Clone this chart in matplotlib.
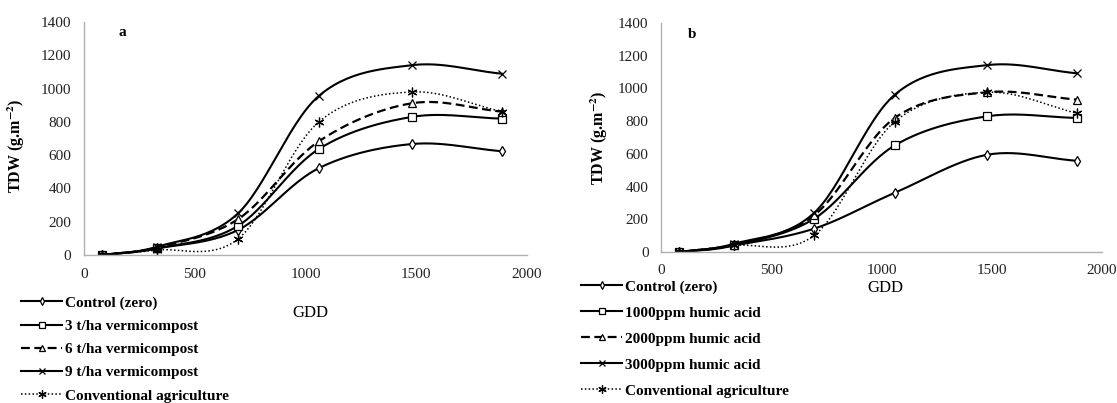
import numpy as np
import matplotlib.pyplot as plt

plt.rcParams['font.family'] = ['Liberation Serif', 'DejaVu Serif']
plt.rcParams['mathtext.fontset'] = 'stix'

# ---- data ----
gdd = [80, 330, 695, 1060, 1480, 1885]

labels_a = ["Control (zero)", "3 t/ha vermicompost", "6 t/ha vermicompost",
            "9 t/ha vermicompost", "Conventional agriculture"]
control_a = [0, 40, 150, 522, 667, 624]
vc3 = [0, 40, 175, 637, 830, 820]
vc6 = [0, 45, 215, 683, 912, 862]
vc9 = [0, 50, 250, 956, 1141, 1090]
conv_a = [0, 30, 96, 800, 980, 862]

labels_b = ["Control (zero)", "1000ppm humic acid", "2000ppm humic acid",
            "3000ppm humic acid", "Conventional agriculture"]
control_b = [0, 40, 143, 362, 595, 558]
ha1000 = [0, 40, 204, 652, 830, 820]
ha2000 = [0, 45, 225, 820, 977, 932]
ha3000 = [0, 50, 240, 962, 1143, 1093]
conv_b = [0, 40, 102, 797, 977, 849]

# line style per series (same order in both panels)
styles = [
    dict(marker='d', ls='-', lw=1.5, ms=5),
    dict(marker='s', ls='-', lw=1.5, ms=6),
    dict(marker='^', ls=(0, (4, 2)), lw=1.6, ms=6),
    dict(marker='x', ls='-', lw=1.5, ms=6),
    dict(marker=(6, 2, 0), ls=(0, (1, 1.5)), lw=1.1, ms=7),
]


def smooth(x, y, n=30):
    # excel-like smoothed line (Catmull-Rom) through the points
    p = np.column_stack([x, y]).astype(float)
    pts = np.vstack([p[0] - (p[1] - p[0]), p, p[-1] + (p[-1] - p[-2])])
    out = []
    for i in range(1, len(pts) - 2):
        p0, p1, p2, p3 = pts[i - 1], pts[i], pts[i + 1], pts[i + 2]
        m1 = (p2 - p0) / 2
        m2 = (p3 - p1) / 2
        t = np.linspace(0, 1, n)[:, None]
        h00 = 2 * t**3 - 3 * t**2 + 1
        h10 = t**3 - 2 * t**2 + t
        h01 = -2 * t**3 + 3 * t**2
        h11 = t**3 - t**2
        out.append(h00 * p1 + h10 * m1 + h01 * p2 + h11 * m2)
    out = np.vstack(out)
    return out[:, 0], out[:, 1]


def draw_panel(ax, series, labels, tag, tag_xy, leg_anchor, ylab_xy,
               xlab_xy, leg_space):
    handles = []
    for vals, lab, st in zip(series, labels, styles):
        sx, sy = smooth(gdd, vals)
        ax.plot(sx, sy, color='black', ls=st['ls'], lw=st['lw'])
        ax.plot(gdd, vals, ls='none', marker=st['marker'], ms=st['ms'],
                mfc='white', mec='black', mew=0.9)
        h, = ax.plot([], [], color='black', ls=st['ls'], lw=st['lw'],
                     marker=st['marker'], ms=st['ms'] - 1, mfc='white',
                     mec='black', mew=0.9)
        handles.append(h)

    ax.set_xlim(0, 2000)
    ax.set_ylim(0, 1400)
    ax.set_xticks([0, 500, 1000, 1500, 2000])
    ax.set_yticks(range(0, 1401, 200))
    ax.tick_params(length=0, labelsize=11, colors='#222222')
    ax.tick_params(axis='x', pad=9)
    ax.tick_params(axis='y', pad=9)
    for s in ['top', 'right']:
        ax.spines[s].set_visible(False)
    for s in ['left', 'bottom']:
        ax.spines[s].set_color('#b0b0b0')
        ax.spines[s].set_linewidth(1.0)

    ax.set_ylabel('TDW (g.m$^{\\mathbf{-2}}$)', fontsize=11.5,
                  fontweight='bold')
    ax.yaxis.set_label_coords(*ylab_xy)
    ax.set_xlabel('GDD', fontsize=12)
    ax.xaxis.set_label_coords(*xlab_xy)
    ax.text(tag_xy[0], tag_xy[1], tag, transform=ax.transAxes,
            fontsize=11, fontweight='bold', va='center')

    fig.legend(handles, labels, loc='upper left', bbox_to_anchor=leg_anchor,
               frameon=False, prop=dict(weight='bold', size=11),
               handlelength=2.7, handletextpad=0.15, labelspacing=leg_space,
               borderpad=0, borderaxespad=0, numpoints=1)


fig = plt.figure(figsize=(11.17, 4.03), dpi=100)
ax_a = fig.add_axes([0.0752, 0.3672, 0.3966, 0.578])
ax_b = fig.add_axes([0.5918, 0.3747, 0.3948, 0.568])

draw_panel(ax_a, [control_a, vc3, vc6, vc9, conv_a], labels_a, 'a',
           (0.077, 0.957), (21 / 1117, 1 - 296 / 403), (-0.129, 0.47),
           (0.512, -0.2146), 0.62)
draw_panel(ax_b, [control_b, ha1000, ha2000, ha3000, conv_b], labels_b, 'b',
           (0.061, 0.948), (581 / 1117, 1 - 280 / 403), (-0.116, 0.5),
           (0.508, -0.122), 0.80)

fig.savefig('out.png', dpi=100, facecolor='white')
